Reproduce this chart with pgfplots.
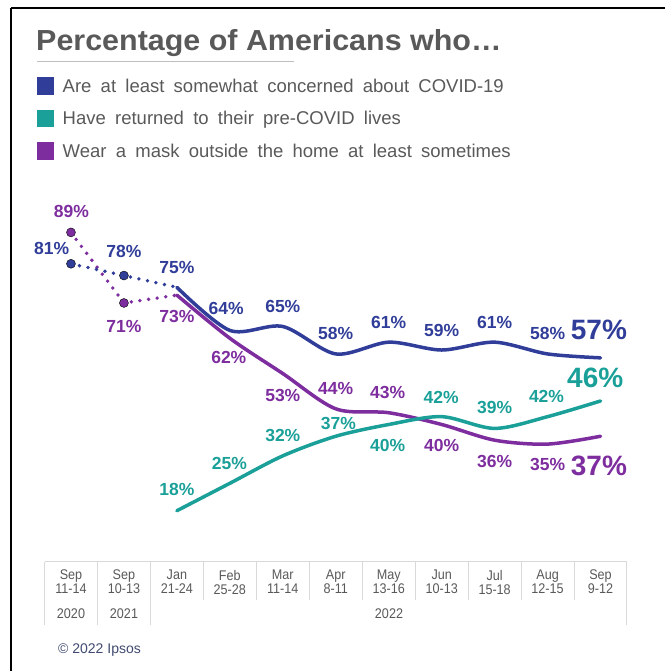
\documentclass[border=0pt]{standalone}
\usepackage{pgfplots}
\pgfplotsset{compat=1.18}
\usepackage{fontspec}
\setmainfont{Liberation Sans}
\newfontfamily\titlefont{Liberation Sans}[FakeStretch=1.05]
\newfontfamily\legfont{Liberation Sans}[WordSpace=1.8]
\newfontfamily\axfont{Liberation Sans}[FakeStretch=0.9]
\definecolor{cblue}{RGB}{48,61,153}
\definecolor{cteal}{RGB}{26,160,152}
\definecolor{cpurp}{RGB}{125,45,158}
\definecolor{txtgray}{RGB}{89,89,89}
\definecolor{gridgray}{RGB}{217,217,217}
\definecolor{copyc}{RGB}{64,74,112}
\begin{document}
\begin{tikzpicture}[x=1pt,y=1pt,
  lab/.style={inner sep=0pt,font=\bfseries\fontsize{17.5}{18}\selectfont},
  big/.style={inner sep=0pt,font=\bfseries\fontsize{28}{30}\selectfont}]
\path[use as bounding box] (0,0) rectangle (665,671);
% frame
\draw[black,line width=2pt] (11,663) -- (665,663);
\draw[black,line width=2pt] (11,663) -- (11,0);
% title
\node[anchor=base west,inner sep=0,text=txtgray,font=\titlefont\bfseries\fontsize{29}{32}\selectfont] at (36,620) {Percentage of Americans who…};
\draw[gridgray!70!gray,line width=1pt] (37,609.3) -- (294,609.3);
% legend
\fill[cblue] (37.3,576) rectangle (54,594.3);
\node[anchor=base west,inner sep=0,text=txtgray,font=\legfont\fontsize{18.5}{20}\selectfont] at (62.5,578.4) {Are at least somewhat concerned about COVID-19};
\fill[cteal] (37.3,544) rectangle (54,561);
\node[anchor=base west,inner sep=0,text=txtgray,font=\legfont\fontsize{18.5}{20}\selectfont] at (62.5,546.1) {Have returned to their pre-COVID lives};
\fill[cpurp] (37.3,511) rectangle (54,529.3);
\node[anchor=base west,inner sep=0,text=txtgray,font=\legfont\fontsize{18.5}{20}\selectfont] at (62.5,513.6) {Wear a mask outside the home at least sometimes};
% category table
\draw[gridgray,line width=1pt] (44.5,109) -- (627,109);
\foreach \k in {0,1,2,11} {\draw[gridgray,line width=1pt] ({44.5+52.95*\k},109) -- ({44.5+52.95*\k},46);}
\foreach \k in {3,...,10} {\draw[gridgray,line width=1pt] ({44.5+52.95*\k},109) -- ({44.5+52.95*\k},71);}
\node[text=txtgray,font=\axfont\fontsize{14}{14}\selectfont] at (71,57) {2020};
\node[text=txtgray,font=\axfont\fontsize{14}{14}\selectfont] at (124,57) {2021};
\node[text=txtgray,font=\axfont\fontsize{14}{14}\selectfont] at (389,57) {2022};
\node[anchor=west,inner sep=0,text=copyc,font=\fontsize{14}{16}\selectfont] at (58,21) {© 2022 Ipsos};
\begin{axis}[
  at={(44.5pt,109.3pt)}, anchor=south west, scale only axis,
  width=582.5pt, height=352.8pt,
  xmin=-0.5, xmax=10.5, ymin=5, ymax=95, clip=false,
  axis line style={draw=none}, tick style={draw=none},
  ytick=\empty, xtick={0,...,10},
  xticklabels={{Sep\\11-14},{Sep\\10-13},{Jan\\21-24},{Feb\\25-28},{Mar\\11-14},{Apr\\8-11},{May\\13-16},{Jun\\10-13},{Jul\\15-18},{Aug\\12-15},{Sep\\9-12}},
  xticklabel style={align=center,font=\axfont\fontsize{14}{14.2}\selectfont,text=txtgray,inner sep=0pt,anchor=north},
  xticklabel shift=8pt,
]
% purple
\addplot[cpurp,line width=3.8pt,line cap=round,dash pattern=on 0pt off 8.7pt] coordinates {(0,89)(1,71)(2,73)};
\addplot[only marks,mark=*,mark size=4.5pt,mark options={fill=cpurp,draw=none}] coordinates {(0,89)(1,71)};
\addplot[cpurp,line width=3.5pt,smooth,line cap=round] coordinates {(2,73)(3,62)(4,53)(5,44)(6,43)(7,40)(8,36)(9,35)(10,37)};
% teal
\addplot[cteal,line width=3.5pt,smooth,line cap=round] coordinates {(2,18)(3,25)(4,32)(5,37)(6,40)(7,42)(8,39)(9,42)(10,46)};
% blue
\addplot[cblue,line width=3.8pt,line cap=round,dash pattern=on 0pt off 8.7pt] coordinates {(0,81)(1,78)(2,75)};
\addplot[only marks,mark=*,mark size=4.5pt,mark options={fill=cblue,draw=none}] coordinates {(0,81)(1,78)};
\addplot[cblue,line width=3.5pt,smooth,line cap=round] coordinates {(2,75)(3,64)(4,65)(5,58)(6,61)(7,59)(8,61)(9,58)(10,57)};
% blue labels
\node[lab,text=cblue] at (axis cs:-0.365,84.8) {81\%};
\node[lab,text=cblue] at (axis cs:1,84.1) {78\%};
\node[lab,text=cblue] at (axis cs:2,80.1) {75\%};
\node[lab,text=cblue] at (axis cs:2.93,69.7) {64\%};
\node[lab,text=cblue] at (axis cs:4,70.2) {65\%};
\node[lab,text=cblue] at (axis cs:5,63.3) {58\%};
\node[lab,text=cblue] at (axis cs:6,66.1) {61\%};
\node[lab,text=cblue] at (axis cs:7,64.1) {59\%};
\node[lab,text=cblue] at (axis cs:8,66.1) {61\%};
\node[lab,text=cblue] at (axis cs:9,63.3) {58\%};
\node[big,text=cblue] at (axis cs:9.97,64.1) {57\%};
% teal labels
\node[lab,text=cteal] at (axis cs:2,23.3) {18\%};
\node[lab,text=cteal] at (axis cs:2.99,30.1) {25\%};
\node[lab,text=cteal] at (axis cs:4,37.3) {32\%};
\node[lab,text=cteal] at (axis cs:5.05,40.3) {37\%};
\node[lab,text=cteal] at (axis cs:5.98,34.6) {40\%};
\node[lab,text=cteal] at (axis cs:6.99,46.9) {42\%};
\node[lab,text=cteal] at (axis cs:8,44.3) {39\%};
\node[lab,text=cteal] at (axis cs:8.98,47.1) {42\%};
\node[big,text=cteal] at (axis cs:9.9,51.8) {46\%};
% purple labels
\node[lab,text=cpurp] at (axis cs:0.01,94.3) {89\%};
\node[lab,text=cpurp] at (axis cs:1,65.1) {71\%};
\node[lab,text=cpurp] at (axis cs:2,67.5) {73\%};
\node[lab,text=cpurp] at (axis cs:2.98,57.0) {62\%};
\node[lab,text=cpurp] at (axis cs:4,47.5) {53\%};
\node[lab,text=cpurp] at (axis cs:5,49.2) {44\%};
\node[lab,text=cpurp] at (axis cs:5.98,48.1) {43\%};
\node[lab,text=cpurp] at (axis cs:7,34.6) {40\%};
\node[lab,text=cpurp] at (axis cs:8,30.5) {36\%};
\node[lab,text=cpurp] at (axis cs:9,29.8) {35\%};
\node[big,text=cpurp] at (axis cs:9.97,29.5) {37\%};
\end{axis}
\end{tikzpicture}
\end{document}
